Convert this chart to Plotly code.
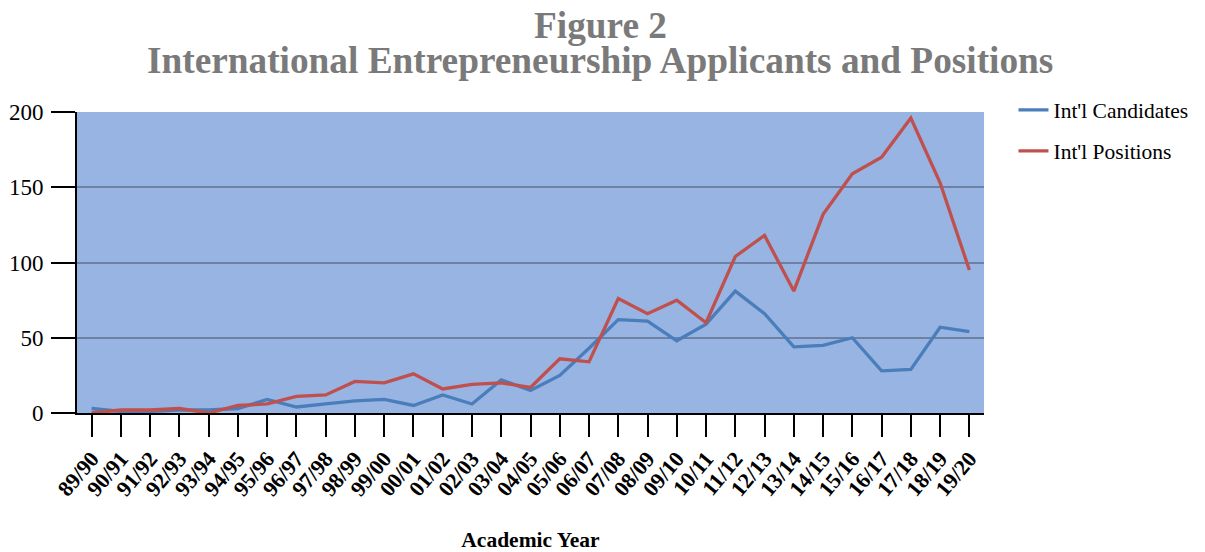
import plotly.graph_objects as go

years = ["89/90", "90/91", "91/92", "92/93", "93/94", "94/95", "95/96", "96/97", "97/98",
         "98/99", "99/00", "00/01", "01/02", "02/03", "03/04", "04/05", "05/06", "06/07",
         "07/08", "08/09", "09/10", "10/11", "11/12", "12/13", "13/14", "14/15", "15/16",
         "16/17", "17/18", "18/19", "19/20"]
candidates = [3, 1, 1, 2, 2, 3, 9, 4, 6, 8, 9, 5, 12, 6, 22, 15, 25, 43,
              62, 61, 48, 59, 81, 66, 44, 45, 50, 28, 29, 57, 54]
positions = [0, 2, 2, 3, 0, 5, 6, 11, 12, 21, 20, 26, 16, 19, 20, 17, 36, 34,
             76, 66, 75, 60, 104, 118, 81, 132, 159, 170, 196, 153, 95]

title_line1 = "Figure 2"
title_line2 = "International Entrepreneurship Applicants and Positions"

serif = "Liberation Serif, Times New Roman, serif"
title_color = "#7a7a7a"

fig = go.Figure()
fig.add_trace(go.Scatter(x=years, y=candidates, mode="lines", name="Int'l Candidates",
                         line=dict(color="#4a7ebb", width=3.3), legendgroup="a"))
fig.add_trace(go.Scatter(x=years, y=positions, mode="lines", name="Int'l Positions",
                         line=dict(color="#c0504d", width=3.3), legendgroup="b"))

# page body has an 8px margin, so the figure is sized to fit the visible window
fig.update_layout(
    width=1197, height=544,
    margin=dict(l=69, r=214, t=104, b=139),
    paper_bgcolor="white",
    plot_bgcolor="#97b4e3",
    font=dict(family=serif, color="black"),
    legend=dict(x=1.0325, y=1.075, xanchor="left", yanchor="top",
                font=dict(family=serif, size=21.5, color="black"),
                tracegroupgap=10, bgcolor="rgba(0,0,0,0)"),
    showlegend=True,
    annotations=[
        dict(text="<b>%s</b>" % title_line1, xref="paper", yref="paper", x=0.577, y=1.288,
             xanchor="center", yanchor="middle", showarrow=False,
             font=dict(family=serif, size=37.3, color=title_color)),
        dict(text="<b>%s</b>" % title_line2, xref="paper", yref="paper", x=0.577, y=1.170,
             xanchor="center", yanchor="middle", showarrow=False,
             font=dict(family=serif, size=37.3, color=title_color)),
    ],
)
fig.update_xaxes(
    type="category", range=[-0.5, 30.5], automargin=False,
    showline=True, linecolor="black", linewidth=2,
    ticks="outside", ticklen=22, tickwidth=2, tickcolor="black",
    tickangle=-50, tickfont=dict(family=serif, size=22, color="black", weight="bold"),
    showgrid=False,
    title=dict(text="<b>Academic Year</b>", font=dict(family=serif, size=21.5, color="black"),
               standoff=32),
)
fig.update_yaxes(
    range=[0, 200], tickvals=[0, 50, 100, 150, 200], automargin=False,
    showline=True, linecolor="black", linewidth=2,
    ticks="outside", ticklen=24, tickwidth=2, tickcolor="black",
    tickfont=dict(family=serif, size=23, color="black"),
    ticklabelstandoff=3,
    showgrid=True, gridcolor="#6c81a3", gridwidth=2,
    zeroline=False,
)

fig.write_html("out.html")
